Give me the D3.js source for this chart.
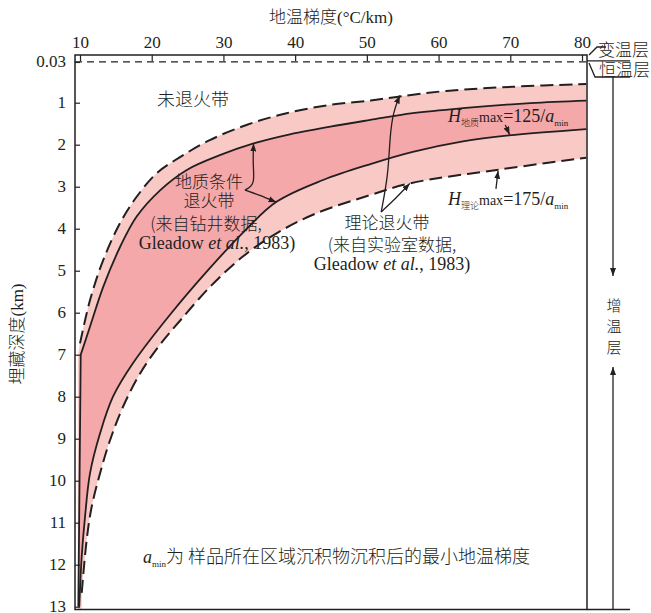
<!DOCTYPE html>
<html><head><meta charset="utf-8">
<script src="https://cdn.jsdelivr.net/npm/d3@7"></script>
<style>
body{margin:0;background:#fff;}
svg{display:block;}
.cjk{font-family:"Noto Sans CJK SC","Noto Sans",sans-serif;font-weight:300;}
.serif{font-family:"Liberation Serif","DejaVu Serif",serif;}
</style></head><body>
<svg id="chart" width="651" height="613"></svg>
<script>
// Axis values
const gradientTicks = [10, 20, 30, 40, 50, 60, 70, 80];
const depthTicks = [0.03, 1, 2, 3, 4, 5, 6, 7, 8, 9, 10, 11, 12, 13];
const surfaceDepth = 0.03;

// Band boundaries: [geothermal gradient (°C/km), depth (km)]
const theoryTop = [[10.0,6.73],[11.4,5.70],[13.25,4.74],[15.6,3.86],[17.9,3.24],[20.7,2.68],[24.0,2.29],[28.1,1.89],[33.2,1.53],[38.8,1.25],[44.9,1.05],[50.5,0.95],[54.6,0.85],[61.1,0.72],[70.4,0.62],[80.6,0.555]];
const geoTopStem = [[9.77,13.0],[10.1,7.0]];
const geoTop = [[10.1,7.0],[11.4,6.33],[13.25,5.38],[15.6,4.43],[17.9,3.71],[21.2,3.08],[24.9,2.60],[29.5,2.25],[34.2,1.97],[38.8,1.77],[44.9,1.57],[50.5,1.41],[56.4,1.25],[63.4,1.13],[72.8,1.01],[80.6,0.95]];
const geoBottom = [[9.9,13.0],[10.24,11.8],[10.7,10.86],[11.4,9.82],[12.8,8.87],[14.6,8.0],[17.4,7.2],[22.55,6.05],[28.1,4.94],[32.8,4.08],[37.4,3.36],[43.9,2.84],[50.5,2.46],[56.4,2.17],[63.4,1.92],[69.8,1.78],[80.6,1.63]];
const theoryBottom = [[10.24,12.67],[10.93,11.41],[11.63,10.62],[12.8,9.82],[14.2,9.03],[16.0,8.24],[18.4,7.44],[21.2,6.75],[24.0,6.18],[28.1,5.39],[32.8,4.65],[37.4,4.11],[43.0,3.63],[50.45,3.20],[56.0,2.92],[68.1,2.60],[80.6,2.31]];

const svg = d3.select("#chart");
const frame = {left: 75, right: 587, top: 55, bottom: 609.5};
const x = d3.scaleLinear().domain([10, 80]).range([80, 582]);
const y = d3.scaleLinear().domain([0, 13]).range([60.7, 606.7]);
const ink = "#231f20";
const lightPink = "#f9c9c5";
const darkPink = "#f4a8aa";

const defs = svg.append("defs");
defs.append("clipPath").attr("id", "plotClip").append("rect")
  .attr("x", frame.left).attr("y", frame.top)
  .attr("width", frame.right - frame.left).attr("height", frame.bottom - frame.top);
defs.append("marker").attr("id", "arrow")
  .attr("viewBox", "0 0 8 6").attr("refX", 8).attr("refY", 3)
  .attr("markerWidth", 8).attr("markerHeight", 6)
  .attr("markerUnits", "userSpaceOnUse").attr("orient", "auto")
  .append("path").attr("d", "M0,0L8,3L0,6Z").attr("fill", ink);

const curve = d3.line().x(d => x(d[0])).y(d => y(d[1])).curve(d3.curveCatmullRom.alpha(0.5));
const straight = d3.line().x(d => x(d[0])).y(d => y(d[1]));
const cont = s => s.replace(/^M/, "L");

const plot = svg.append("g").attr("clip-path", "url(#plotClip)");

// Outer (theoretical) band
const outerPath = curve(theoryTop.slice().reverse())
  + cont(straight([[10.0,6.73],[9.7,7.0],[9.68,13.2],[10.24,13.2]]))
  + cont(curve(theoryBottom)) + "Z";
plot.append("path").attr("d", outerPath).attr("fill", lightPink);

// Inner (geological) band
const innerPath = straight(geoTopStem) + cont(curve(geoTop))
  + cont(curve(geoBottom.slice().reverse())) + "Z";
plot.append("path").attr("d", innerPath).attr("fill", darkPink);

// Boundary lines
[theoryTop, theoryBottom].forEach(pts => {
  plot.append("path").attr("d", curve(pts)).attr("fill", "none")
    .attr("stroke", ink).attr("stroke-width", 2).attr("stroke-dasharray", "13,6");
});
plot.append("path").attr("d", straight(geoTopStem) + cont(curve(geoTop)))
  .attr("fill", "none").attr("stroke", ink).attr("stroke-width", 1.8);
plot.append("path").attr("d", curve(geoBottom))
  .attr("fill", "none").attr("stroke", ink).attr("stroke-width", 1.8);

// Constant-temperature depth line
svg.append("line")
  .attr("x1", frame.left).attr("x2", frame.right)
  .attr("y1", y(surfaceDepth)).attr("y2", y(surfaceDepth))
  .attr("stroke", ink).attr("stroke-width", 1.2).attr("stroke-dasharray", "7,5");

// Axes
const topAxis = svg.append("g").attr("transform", `translate(0,${frame.top})`)
  .call(d3.axisTop(x).tickValues(gradientTicks).tickSize(-6).tickPadding(7));
const leftAxis = svg.append("g").attr("transform", `translate(${frame.left},0)`)
  .call(d3.axisLeft(y).tickValues(depthTicks).tickSize(-5).tickPadding(9)
    .tickFormat(d => d === surfaceDepth ? "0.03" : d3.format("d")(d)));
[topAxis, leftAxis].forEach(g => {
  g.select(".domain").remove();
  g.selectAll(".tick line").attr("stroke", ink).attr("stroke-width", 1.2);
  g.selectAll(".tick text").attr("class", "serif").attr("font-size", 17).attr("fill", ink);
});
leftAxis.selectAll(".tick text").attr("dy", "0.28em");

// Frame
svg.append("rect").attr("x", frame.left).attr("y", frame.top)
  .attr("width", frame.right - frame.left).attr("height", frame.bottom - frame.top)
  .attr("fill", "none").attr("stroke", ink).attr("stroke-width", 1.5);
svg.append("line").attr("x1", frame.right).attr("x2", 630)
  .attr("y1", frame.bottom).attr("y2", frame.bottom)
  .attr("stroke", ink).attr("stroke-width", 1.5);

// Axis titles
const xt = svg.append("text").attr("x", 331).attr("y", 23).attr("text-anchor", "middle")
  .attr("font-size", 17).attr("fill", ink);
xt.append("tspan").attr("class", "cjk").text("地温梯度");
xt.append("tspan").attr("class", "serif").text("(°C/km)");
const yt = svg.append("text").attr("transform", "translate(23,334) rotate(-90)")
  .attr("text-anchor", "middle").attr("font-size", 17).attr("fill", ink);
yt.append("tspan").attr("class", "cjk").text("埋藏深度");
yt.append("tspan").attr("class", "serif").text("(km)");

// Zone labels
function label(txt, cx, by, cls) {
  return svg.append("text").attr("x", cx).attr("y", by).attr("text-anchor", "middle")
    .attr("class", cls || "cjk").attr("font-size", 17).attr("fill", ink).text(txt);
}
label("未退火带", 193, 106).attr("font-size", 18);
label("地质条件", 209, 188);
label("退火带", 209, 207);
label("(来自钻井数据,", 206, 230);
function citation(cx, by) {
  const t = svg.append("text").attr("x", cx).attr("y", by).attr("text-anchor", "middle")
    .attr("class", "serif").attr("font-size", 18).attr("fill", ink);
  t.append("tspan").text("Gleadow ");
  t.append("tspan").attr("font-style", "italic").text("et al.");
  t.append("tspan").text(", 1983)");
}
citation(217, 249);
label("理论退火带", 387, 229);
label("(来自实验室数据,", 392, 251);
citation(392, 270);

// Formula labels
function formula(px, by, sub, value) {
  const t = svg.append("text").attr("x", px).attr("y", by).attr("fill", ink).attr("class", "serif");
  t.append("tspan").attr("font-style", "italic").attr("font-size", 18).text("H");
  t.append("tspan").attr("class", "cjk").attr("font-size", 9).attr("dy", 4).text(sub);
  t.append("tspan").attr("font-size", 14).attr("dy", -4).text("max");
  t.append("tspan").attr("font-size", 18).text("=" + value + "/");
  t.append("tspan").attr("font-style", "italic").attr("font-size", 18).text("a");
  t.append("tspan").attr("font-size", 9).attr("dy", 4).text("min");
}
formula(448, 122, "地质", 125);
formula(448, 205, "理论", 175);

// Footnote
const fn = svg.append("text").attr("x", 143).attr("y", 563).attr("fill", ink).attr("font-size", 18);
fn.append("tspan").attr("class", "serif").attr("font-style", "italic").text("a");
fn.append("tspan").attr("class", "serif").attr("font-size", 9).attr("dy", 4).text("min");
fn.append("tspan").attr("class", "cjk").attr("dy", -4).text("为 样品所在区域沉积物沉积后的最小地温梯度");

// Leader arrows (anchored in gradient/depth units)
const px = d => [x(d[0]), y(d[1])];
const lead = d3.line().curve(d3.curveBasis);
function arrow(ptsData) {
  svg.append("path").attr("d", lead(ptsData.map(px))).attr("fill", "none")
    .attr("stroke", ink).attr("stroke-width", 1.3).attr("marker-end", "url(#arrow)");
}
// geological band leaders
arrow([[33.0,3.08],[34.4,2.95],[34.1,2.5],[34.2,1.97]]);
arrow([[33.0,3.08],[35.0,3.2],[37.4,3.37]]);
// theoretical band leaders
arrow([[52.0,3.6],[53.0,2.7],[53.2,1.8],[53.7,1.2],[54.6,0.83]]);
arrow([[52.0,3.6],[53.9,3.3],[56.0,2.92]]);
// formula leaders
arrow([[69.3,1.53],[69.9,1.76]]);
arrow([[68.0,3.05],[68.3,2.62]]);

// Right-hand layer annotations
const side = svg.append("g").attr("fill", "none").attr("stroke", ink).attr("stroke-width", 1.3);
side.append("path").attr("d", `M${frame.right+2},${frame.top}L597,47L606,47`);
side.append("path").attr("d", `M${frame.right},${y(surfaceDepth)-1}L630,${y(surfaceDepth)-1}`);
side.append("path").attr("d", `M${frame.right+2},${y(surfaceDepth)+1}L595,77L630,77`);
side.append("path").attr("d", "M613,77L613,276").attr("marker-end", "url(#arrow)");
side.append("path").attr("d", `M613,${frame.bottom}L613,367`).attr("marker-end", "url(#arrow)");
svg.append("text").attr("x", 598).attr("y", 56).attr("class", "cjk").attr("font-size", 17).attr("fill", ink).text("变温层");
svg.append("text").attr("x", 599).attr("y", 76).attr("class", "cjk").attr("font-size", 17).attr("fill", ink).text("恒温层");
["增", "温", "层"].forEach((c, i) => {
  svg.append("text").attr("x", 614).attr("y", 311 + i * 21).attr("text-anchor", "middle")
    .attr("class", "cjk").attr("font-size", 15).attr("fill", ink).text(c);
});
</script></body></html>
